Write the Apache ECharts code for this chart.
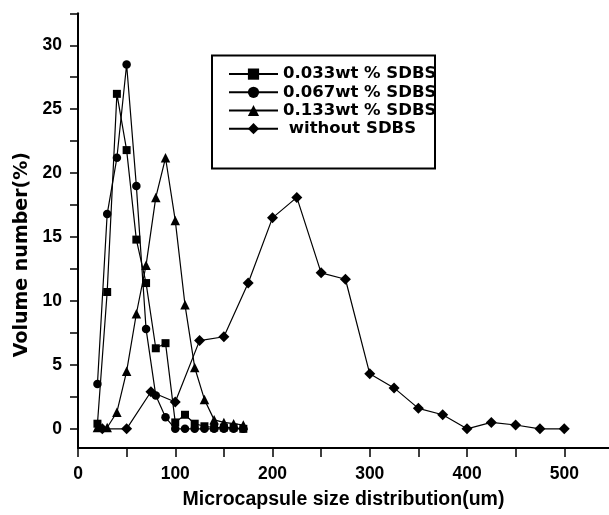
<!DOCTYPE html>
<html>
<head>
<meta charset="utf-8">
<title>Microcapsule size distribution</title>
<script src="https://cdn.jsdelivr.net/npm/echarts@6/dist/echarts.min.js"></script>
<style>
  html, body { margin: 0; padding: 0; background: #fff; }
  #chart { width: 609px; height: 515px; }
</style>
</head>
<body>
<div id="chart"></div>
<script>
// series names (legend)
var seriesNames = ["0.033wt % SDBS", "0.067wt % SDBS", "0.133wt % SDBS", " without SDBS"];

// x positions (um) for the three SDBS series, step 10
var sizesSdbs = [20, 30, 40, 50, 60, 70, 80, 90, 100, 110, 120, 130, 140, 150, 160, 170];
// x positions (um) for the series without SDBS, step 25
var sizesNoSdbs = [25, 50, 75, 100, 125, 150, 175, 200, 225, 250, 275, 300, 325, 350, 375, 400, 425, 450, 475, 500];

// volume number (%)
var vol033 = [0.4, 10.7, 26.2, 21.8, 14.8, 11.4, 6.3, 6.7, 0.5, 1.1, 0.4, 0.2, 0.1, 0.1, 0.1, 0.0];
var vol067 = [3.5, 16.8, 21.2, 28.5, 19.0, 7.8, 2.6, 0.9, 0.0, 0.0, 0.0, 0.0, 0.0, 0.0, 0.0, 0.0];
var vol133 = [0.1, 0.1, 1.3, 4.5, 9.0, 12.8, 18.1, 21.2, 16.3, 9.7, 4.8, 2.3, 0.7, 0.5, 0.4, 0.3];
var volNone = [0.0, 0.0, 2.9, 2.1, 6.9, 7.2, 11.4, 16.5, 18.1, 12.2, 11.7, 4.3, 3.2, 1.6, 1.1, 0.0, 0.5, 0.3, 0.0, 0.0];

// tick labels and tick marks
var xTickLabels = [0, 100, 200, 300, 400, 500];
var xTickMarks = [0, 50, 100, 150, 200, 250, 300, 350, 400, 450, 500];
var yTickLabels = [0, 5, 10, 15, 20, 25, 30];
var yTickMarks = [0, 2.5, 5, 7.5, 10, 12.5, 15, 17.5, 20, 22.5, 25, 27.5, 30, 32.5];

var symbols = ["rect", "circle", "triangle", "diamond"];
var symbolSizes = [8, 8.5, 9.5, 11];

function pairs(xs, ys) {
  var out = [];
  for (var i = 0; i < xs.length; i++) {
    out.push([xs[i], ys[i]]);
  }
  return out;
}

var seriesData = [
  pairs(sizesSdbs, vol033),
  pairs(sizesSdbs, vol067),
  pairs(sizesSdbs, vol133),
  pairs(sizesNoSdbs, volNone)
];

var series = [];
for (var i = 0; i < seriesNames.length; i++) {
  series.push({
    name: seriesNames[i],
    type: "line",
    data: seriesData[i],
    symbol: symbols[i],
    symbolSize: symbolSizes[i],
    showAllSymbol: true,
    clip: false,
    lineStyle: { color: "#000", width: 1.2 },
    itemStyle: { color: "#000", borderWidth: 0 },
    emphasis: { disabled: true },
    animation: false
  });
}

var tickFont = {
  color: "#000",
  fontFamily: "Liberation Sans, Arial, sans-serif",
  fontWeight: "bold",
  fontSize: 17.5
};

var myChart = echarts.init(document.getElementById("chart"), null, { renderer: "canvas" });
var option = {
  animation: false,
  backgroundColor: "#fff",
  grid: { left: 78, right: 0, top: 13.3, bottom: 67, containLabel: false },
  legend: {
    orient: "vertical",
    left: 228,
    top: 65,
    itemWidth: 49,
    itemHeight: 14,
    itemGap: 0,
    padding: 0,
    textStyle: {
      color: "#000",
      fontFamily: "DejaVu Sans, sans-serif",
      fontWeight: "bold",
      fontSize: 16.5,
      lineHeight: 18.2
    },
    data: seriesNames
  },
  graphic: [
    {
      // legend frame
      type: "rect",
      shape: { x: 212, y: 55.5, width: 223, height: 113 },
      style: { fill: "none", stroke: "#000", lineWidth: 2 },
      z: 100
    }
  ],
  xAxis: {
    type: "value",
    min: 0,
    max: 546,
    name: "Microcapsule size distribution(um)",
    nameLocation: "middle",
    nameGap: 42,
    nameTextStyle: {
      color: "#000",
      fontFamily: "Liberation Sans, Arial, sans-serif",
      fontWeight: "bold",
      fontSize: 19.5
    },
    axisLine: { show: true, onZero: false, lineStyle: { color: "#000", width: 2 } },
    axisTick: { show: true, length: 9, customValues: xTickMarks, lineStyle: { color: "#000", width: 1.5 } },
    axisLabel: Object.assign({ margin: 17, customValues: xTickLabels }, tickFont),
    splitLine: { show: false }
  },
  yAxis: {
    type: "value",
    min: -1.5,
    max: 32.5,
    name: "Volume number(%)",
    nameLocation: "middle",
    nameGap: 46,
    nameTextStyle: {
      color: "#000",
      fontFamily: "DejaVu Sans, sans-serif",
      fontWeight: "bold",
      fontSize: 19,
      padding: [0, 48, 0, 0]
    },
    axisLine: { show: true, onZero: false, lineStyle: { color: "#000", width: 2 } },
    axisTick: { show: true, length: 8, customValues: yTickMarks, lineStyle: { color: "#000", width: 1.5 } },
    axisLabel: Object.assign({ margin: 16, customValues: yTickLabels }, tickFont),
    splitLine: { show: false }
  },
  series: series
};
myChart.setOption(option);
</script>
</body>
</html>
